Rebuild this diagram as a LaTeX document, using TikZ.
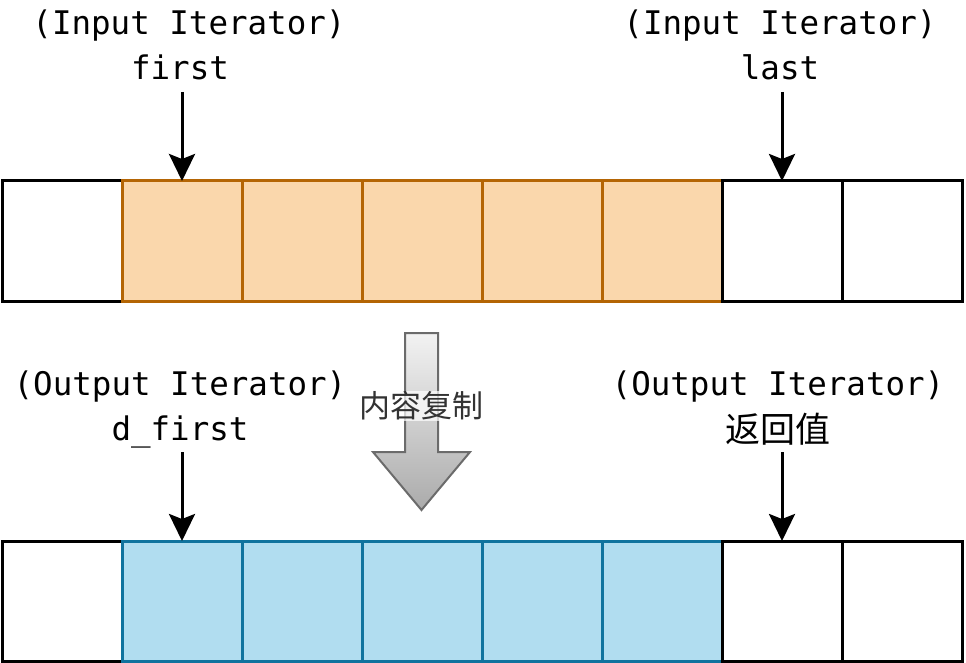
\documentclass[tikz,border=0pt]{standalone}
\usepackage{fontspec}
\setmonofont{DejaVu Sans Mono}
\newfontfamily\cjk{Noto Sans CJK SC}
\usetikzlibrary{arrows.meta}
\definecolor{srcfill}{HTML}{FAD7AC}
\definecolor{srcline}{HTML}{B46504}
\definecolor{dstfill}{HTML}{B1DDF0}
\definecolor{dstline}{HTML}{10739E}
\begin{document}
\begin{tikzpicture}[x=1pt,y=-1pt,
 cell/.style={draw=black, fill=white, line width=3pt, minimum width=120pt, minimum height=120pt, inner sep=0pt, outer sep=0pt, anchor=north west},
 srccell/.style={cell, draw=srcline, fill=srcfill},
 dstcell/.style={cell, draw=dstline, fill=dstfill},
 lbl/.style={font=\ttfamily\fontsize{32.5}{38}\selectfont, inner sep=0pt, anchor=base},
 cjklbl/.style={font=\cjk\fontsize{35}{40}\selectfont, inner sep=0pt, anchor=base},
 ptr/.style={line width=3pt, -{Stealth[length=27pt,width=26pt,inset=5pt]}},
]
\useasboundingbox (0,0) rectangle (966,663);

% top row
\node[cell] (a0) at (2,181) {};
\node[srccell] (a1) at (122,181) {};
\node[srccell] (a2) at (242,181) {};
\node[srccell] (a3) at (362,181) {};
\node[srccell] (a4) at (482,181) {};
\node[srccell] (a5) at (602,181) {};
\node[cell] (a6) at (722,181) {};
\node[cell] (a7) at (842,181) {};

% bottom row
\node[cell] (b0) at (2,541) {};
\node[dstcell] (b1) at (122,541) {};
\node[dstcell] (b2) at (242,541) {};
\node[dstcell] (b3) at (362,541) {};
\node[dstcell] (b4) at (482,541) {};
\node[dstcell] (b5) at (602,541) {};
\node[cell] (b6) at (722,541) {};
\node[cell] (b7) at (842,541) {};

% labels
\node[lbl] (ta1) at (189,35) {(Input Iterator)};
\node[lbl] (tb1) at (180,80) {first};
\node[lbl] (ta2) at (780,35) {(Input Iterator)};
\node[lbl] (tb2) at (780,80) {last};
\node[lbl] (ba1) at (180,395) {(Output Iterator)};
\node[lbl] (bb1) at (180,440) {d\_first};
\node[lbl] (ba2) at (778,395) {(Output Iterator)};
\node[cjklbl] (bb2) at (778,442) {返回值};

% pointer arrows
\coordinate (s1) at (182,92);
\coordinate (s2) at (782,92);
\coordinate (s3) at (182,452);
\coordinate (s4) at (782,452);
\draw[ptr] (s1) -- (a1.north);
\draw[ptr] (s2) -- (a6.north);
\draw[ptr] (s3) -- (b1.north);
\draw[ptr] (s4) -- (b6.north);

% big copy arrow
\shade[top color=black!5, bottom color=black!33, draw=black!58, line width=2pt]
  (405,333) -- (438,333) -- (438,452) -- (470,452) -- (421.5,510) -- (373,452) -- (405,452) -- cycle;
\node[fill=white, fill opacity=0.7, text opacity=1, text=black!80, font=\cjk\fontsize{31}{36}\selectfont, inner sep=1pt] (copy) at (421,406) {内容复制};
\end{tikzpicture}
\end{document}
